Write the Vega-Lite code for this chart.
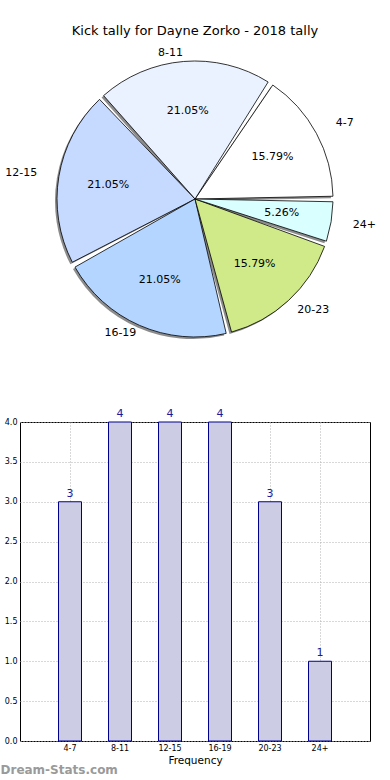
{
  "$schema": "https://vega.github.io/schema/vega-lite/v6.json",
  "padding": {"left": 0, "top": 24, "right": 0, "bottom": 0},
  "bounds": "flush",
  "spacing": 73,
  "config": {"font": "DejaVu Sans", "view": {"stroke": null}},
  "data": {"values": [
    {"range": "4-7", "count": 3, "share": 0.1579, "idx": 1},
    {"range": "8-11", "count": 4, "share": 0.2105, "idx": 2},
    {"range": "12-15", "count": 4, "share": 0.2105, "idx": 3},
    {"range": "16-19", "count": 4, "share": 0.2105, "idx": 4},
    {"range": "20-23", "count": 3, "share": 0.1579, "idx": 5},
    {"range": "24+", "count": 1, "share": 0.0526, "idx": 6}
  ]},
  "vconcat": [
    {
      "width": 350,
      "height": 300,
      "title": {"text": "Kick tally for Dayne Zorko - 2018 tally", "fontSize": 13, "fontWeight": "normal", "offset": -4, "frame": "group", "color": "#000000"},
      "encoding": {
        "theta": {"field": "count", "type": "quantitative", "stack": true, "scale": {"range": [1.5708, 7.8540]}},
        "order": {"field": "idx", "type": "quantitative", "sort": "descending"}
      },
      "layer": [
        {
          "mark": {"type": "arc", "radius": 138, "padAngle": 0.04, "xOffset": -2, "yOffset": 2, "color": "#8c8c8c"}
        },
        {
          "mark": {"type": "arc", "radius": 138, "padAngle": 0.04, "stroke": "#000000", "strokeWidth": 0.8},
          "encoding": {
            "color": {"field": "range", "type": "nominal", "legend": null,
              "scale": {"domain": ["4-7", "8-11", "12-15", "16-19", "20-23", "24+"],
                        "range": ["#FFFFFF", "#EAF1FF", "#C6DAFF", "#B3D5FF", "#D0EA8A", "#D9FFFF"]}}
          }
        },
        {
          "mark": {"type": "text", "radius": 88, "fontSize": 11, "color": "#000000"},
          "encoding": {"text": {"field": "share", "type": "quantitative", "format": ".2%"}}
        },
        {
          "mark": {"type": "text", "radius": 160, "fontSize": 11, "align": "left", "baseline": "middle", "color": "#000000"},
          "encoding": {"text": {"condition": {"test": "datum.idx == 1 || datum.idx == 6", "field": "range", "type": "nominal"}, "value": ""}}
        },
        {
          "mark": {"type": "text", "radius": 151, "fontSize": 11, "align": "left", "baseline": "middle", "color": "#000000"},
          "encoding": {"text": {"condition": {"test": "datum.idx == 5", "field": "range", "type": "nominal"}, "value": ""}}
        },
        {
          "mark": {"type": "text", "radius": 160, "fontSize": 11, "align": "right", "baseline": "middle", "color": "#000000"},
          "encoding": {"text": {"condition": {"test": "datum.idx == 3", "field": "range", "type": "nominal"}, "value": ""}}
        },
        {
          "mark": {"type": "text", "radius": 146, "fontSize": 11, "align": "right", "baseline": "middle", "color": "#000000"},
          "encoding": {"text": {"condition": {"test": "datum.idx == 2 || datum.idx == 4", "field": "range", "type": "nominal"}, "value": ""}}
        }
      ]
    },
    {
      "width": 350,
      "height": 319,
      "view": {"stroke": "#000000", "strokeWidth": 1},
      "title": {"text": "Dream-Stats.com", "orient": "bottom", "anchor": "start", "frame": "group", "dx": -19.5, "offset": -1, "fontSize": 12, "fontWeight": "bold", "color": "#9a9a9a"},
      "encoding": {
        "x": {"field": "range", "type": "nominal", "sort": null,
          "scale": {"paddingInner": 0.54, "paddingOuter": 0.77},
          "axis": {"title": "Frequency", "labelAngle": 0, "labelFontSize": 8, "labelColor": "#000000", "titleFontSize": 10.5, "titleFontWeight": "normal", "titleColor": "#000000", "titlePadding": 3, "labelPadding": 3, "ticks": false, "domain": false,
            "grid": true, "gridColor": "#b0b0b0", "gridDash": [1, 2], "gridWidth": 1}},
        "y": {"field": "count", "type": "quantitative", "scale": {"domain": [0, 4], "nice": false},
          "axis": {"title": null, "values": [0, 0.5, 1, 1.5, 2, 2.5, 3, 3.5, 4], "format": ".1f", "labelFontSize": 8, "labelColor": "#000000", "labelPadding": 3, "ticks": false, "domain": false,
            "grid": true, "gridColor": "#b0b0b0", "gridDash": [1, 2], "gridWidth": 1}}
      },
      "layer": [
        {"mark": {"type": "bar", "fill": "#CCCCE5", "stroke": "#00008B", "strokeWidth": 1}},
        {"mark": {"type": "text", "baseline": "bottom", "dy": -3, "fontSize": 11, "color": "#1a1a9a"},
         "encoding": {"text": {"field": "count", "type": "quantitative"}}}
      ]
    }
  ]
}
